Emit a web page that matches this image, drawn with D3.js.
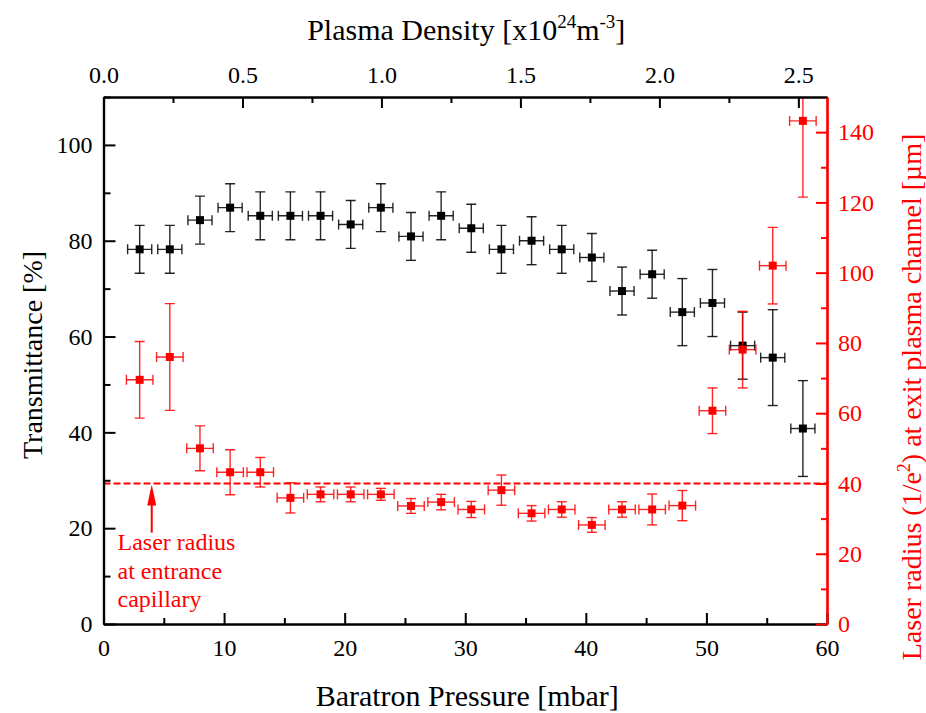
<!DOCTYPE html>
<html>
<head>
<meta charset="utf-8">
<script src="https://cdn.jsdelivr.net/npm/d3@7"></script>
<style>
svg text, svg tspan { font-family: "Liberation Serif", "Times New Roman", Tinos, serif !important; }
</style>
</head>
<body style="margin:0;background:#fff">
<svg id="chart" width="926" height="713" font-family="Liberation Serif" style="display:block;font-family:'Liberation Serif'"></svg>
<script>
// pressure (mbar) of each measurement
var pressure = [3, 5.5, 8, 10.5, 13, 15.5, 18, 20.5, 23, 25.5, 28, 30.5, 33, 35.5, 38, 40.5, 43, 45.5, 48, 50.5, 53, 55.5, 58];
var pressureErr = [1, 1, 1, 1, 1, 1, 1, 1, 1, 1, 1, 1, 1, 1, 1, 1, 1, 1, 1, 1, 1, 1, 1];

// transmittance (%) - black, left axis
var transmittance = [78.2, 78.2, 84.3, 86.9, 85.2, 85.2, 85.2, 83.4, 86.9, 80.9, 85.2, 82.6, 78.2, 80.0, 78.2, 76.5, 69.5, 73.0, 65.1, 67.0, 58.1, 55.6, 40.8];
var transErr = [5, 5, 5, 5, 5, 5, 5, 5, 5, 5, 5, 5, 5, 5, 5, 5, 5, 5, 7, 7, 7, 10, 10];

// laser radius (um) - red, right axis
var radius = [69.5, 76.0, 50.0, 43.2, 43.2, 35.9, 36.9, 36.9, 36.9, 33.6, 34.7, 32.6, 38.1, 31.5, 32.6, 28.2, 32.6, 32.6, 33.7, 60.7, 78.1, 102, 143.2];
var radiusErr = [10.9, 15.2, 6.4, 6.4, 4.2, 4.3, 2.1, 2.1, 1.7, 2.1, 2.2, 2.3, 4.3, 2.2, 2.2, 2.1, 2.2, 4.4, 4.3, 6.5, 10.9, 10.9, 21.7];

// tick values
var xTicks = [0, 10, 20, 30, 40, 50, 60];
var yLeftTicks = [0, 20, 40, 60, 80, 100];
var yRightTicks = [0, 20, 40, 60, 80, 100, 120, 140];
var topTicks = [0, 0.5, 1.0, 1.5, 2.0, 2.5];

// entrance radius reference line
var entranceRadius = [40];
var arrowFrom = [4, 26];   // pressure, radius

var FONT = "Liberation Serif";

var width = 926, height = 713;
var margin = {left: 103.5, top: 97, right: 99, bottom: 89};
var plotWidth = width - margin.left - margin.right;
var plotHeight = height - margin.top - margin.bottom;

var svg = d3.select("#chart");

var xScale = d3.scaleLinear().domain([0, 60]).range([0, plotWidth]);
var yLeft = d3.scaleLinear().domain([0, 110]).range([plotHeight, 0]);
var yRight = d3.scaleLinear().domain([0, 150]).range([plotHeight, 0]);
var topScale = d3.scaleLinear().domain([0, 2.603]).range([0, plotWidth]);

var plotLayer = svg.append("g").attr("transform", "translate(" + [margin.left, margin.top] + ")");
var axisLayer = svg.append("g").attr("transform", "translate(" + [margin.left, margin.top] + ")");

svg.append("defs").append("clipPath").attr("id", "clip")
    .append("rect").attr("width", plotWidth).attr("height", plotHeight);

var black = plotLayer.append("g").attr("clip-path", "url(#clip)");
var red = plotLayer.append("g").attr("clip-path", "url(#clip)");

// reference dashed line
red.selectAll(".ref").data(entranceRadius).enter().append("line")
    .attr("x1", 0).attr("x2", plotWidth)
    .attr("y1", function(d){ return yRight(d); })
    .attr("y2", function(d){ return yRight(d); })
    .attr("stroke", "#ff0000")
    .attr("stroke-width", 2)
    .attr("stroke-dasharray", "7,3");

function drawSeries(layer, ys, errs, yScale, color, xErrScale) {
    var data = pressure.map(function(p, i){
        return {x: p, xe: pressureErr[i] * xErrScale, y: ys[i], ye: errs[i]};
    });
    var cap = 5;
    var g = layer.selectAll(".pt").data(data).enter().append("g");
    g.append("line")
        .attr("x1", function(d){ return xScale(d.x); })
        .attr("x2", function(d){ return xScale(d.x); })
        .attr("y1", function(d){ return yScale(d.y + d.ye); })
        .attr("y2", function(d){ return yScale(d.y - d.ye); });
    g.append("line")
        .attr("x1", function(d){ return xScale(d.x) - cap; })
        .attr("x2", function(d){ return xScale(d.x) + cap; })
        .attr("y1", function(d){ return yScale(d.y + d.ye); })
        .attr("y2", function(d){ return yScale(d.y + d.ye); });
    g.append("line")
        .attr("x1", function(d){ return xScale(d.x) - cap; })
        .attr("x2", function(d){ return xScale(d.x) + cap; })
        .attr("y1", function(d){ return yScale(d.y - d.ye); })
        .attr("y2", function(d){ return yScale(d.y - d.ye); });
    g.append("line")
        .attr("x1", function(d){ return xScale(d.x - d.xe); })
        .attr("x2", function(d){ return xScale(d.x + d.xe); })
        .attr("y1", function(d){ return yScale(d.y); })
        .attr("y2", function(d){ return yScale(d.y); });
    g.append("line")
        .attr("x1", function(d){ return xScale(d.x - d.xe); })
        .attr("x2", function(d){ return xScale(d.x - d.xe); })
        .attr("y1", function(d){ return yScale(d.y) - cap; })
        .attr("y2", function(d){ return yScale(d.y) + cap; });
    g.append("line")
        .attr("x1", function(d){ return xScale(d.x + d.xe); })
        .attr("x2", function(d){ return xScale(d.x + d.xe); })
        .attr("y1", function(d){ return yScale(d.y) - cap; })
        .attr("y2", function(d){ return yScale(d.y) + cap; });
    g.selectAll("line").attr("stroke", color).attr("stroke-width", 1.4).attr("stroke-opacity", 0.85);
    g.append("rect")
        .attr("x", function(d){ return xScale(d.x) - 4; })
        .attr("y", function(d){ return yScale(d.y) - 4; })
        .attr("width", 8).attr("height", 8)
        .attr("fill", color);
}

drawSeries(black, transmittance, transErr, yLeft, "#000000", 1.0);
drawSeries(red, radius, radiusErr, yRight, "#ff0000", 1.1);

// arrow pointing to the reference line
var ax = xScale(arrowFrom[0]);
var ayTip = yRight(entranceRadius[0]) + 1;
plotLayer.append("line")
    .attr("x1", ax).attr("x2", ax)
    .attr("y1", yRight(arrowFrom[1])).attr("y2", ayTip + 18)
    .attr("stroke", "#ff0000").attr("stroke-width", 2);
plotLayer.append("path")
    .attr("d", "M" + ax + "," + ayTip + " L" + (ax - 4.5) + "," + (ayTip + 21) + " L" + (ax + 4.5) + "," + (ayTip + 21) + " Z")
    .attr("fill", "#ff0000");

var note = plotLayer.append("text")
    .attr("fill", "#ff0000")
    .attr("font-size", 24)
    .style("font-family", FONT);
["Laser radius", "at entrance", "capillary"].forEach(function(s, i){
    note.append("tspan").attr("x", 14).attr("y", 453 + i * 28.5).text(s);
});

// axes
function styleAxis(g, color) {
    g.attr("font-family", FONT).attr("font-size", 24);
    g.select(".domain").attr("stroke", color).attr("stroke-width", 2.2);
    g.selectAll(".tick line").attr("stroke", color).attr("stroke-width", 2);
    g.selectAll(".tick text").attr("fill", color)
        .style("font-family", FONT);
}

// minor ticks first
axisLayer.append("g").attr("transform", "translate(0," + plotHeight + ")")
    .call(d3.axisBottom(xScale).tickValues(d3.range(5, 60, 10)).tickSize(-6).tickSizeOuter(0).tickFormat(""))
    .call(styleAxis, "#000");
axisLayer.append("g")
    .call(d3.axisLeft(yLeft).tickValues(d3.range(10, 111, 20)).tickSize(-7).tickSizeOuter(0).tickFormat(""))
    .call(styleAxis, "#000");
axisLayer.append("g")
    .call(d3.axisTop(topScale).tickValues([0.25, 0.75, 1.25, 1.75, 2.25]).tickSize(-6).tickSizeOuter(0).tickFormat(""))
    .call(styleAxis, "#000");
axisLayer.append("g").attr("transform", "translate(" + plotWidth + ",0)")
    .call(d3.axisRight(yRight).tickValues(d3.range(10, 150, 20)).tickSize(-6).tickSizeOuter(0).tickFormat(""))
    .call(styleAxis, "#ff0000");

// major ticks with labels
var xAxis = axisLayer.append("g").attr("transform", "translate(0," + plotHeight + ")")
    .call(d3.axisBottom(xScale).tickValues(xTicks).tickSize(-11).tickSizeOuter(0).tickPadding(15).tickFormat(d3.format("d")))
    .call(styleAxis, "#000");

var yAxisL = axisLayer.append("g")
    .call(d3.axisLeft(yLeft).tickValues(yLeftTicks).tickSize(-12).tickSizeOuter(0).tickPadding(11).tickFormat(d3.format("d")))
    .call(styleAxis, "#000");

var topAxis = axisLayer.append("g")
    .call(d3.axisTop(topScale).tickValues(topTicks).tickSize(-11).tickSizeOuter(0).tickPadding(14).tickFormat(d3.format(".1f")))
    .call(styleAxis, "#000");

var yAxisR = axisLayer.append("g").attr("transform", "translate(" + plotWidth + ",0)")
    .call(d3.axisRight(yRight).tickValues(yRightTicks).tickSize(-11).tickSizeOuter(0).tickPadding(11).tickFormat(d3.format("d")))
    .call(styleAxis, "#ff0000");

// axis titles
svg.append("text")
    .attr("x", margin.left + plotWidth / 2 + 2).attr("y", 706)
    .attr("text-anchor", "middle")
    .attr("font-size", 30)
    .style("font-family", FONT)
    .text("Baratron Pressure [mbar]");

var topTitle = svg.append("text")
    .attr("x", margin.left + plotWidth / 2 + 1).attr("y", 40)
    .attr("text-anchor", "middle")
    .attr("font-size", 30)
    .style("font-family", FONT);
topTitle.append("tspan").text("Plasma Density [x10");
topTitle.append("tspan").attr("font-size", 19).attr("dy", -12).text("24");
topTitle.append("tspan").attr("dy", 12).text("m");
topTitle.append("tspan").attr("font-size", 19).attr("dy", -12).text("-3");
topTitle.append("tspan").attr("dy", 12).text("]");

svg.append("text")
    .attr("transform", "translate(42,355) rotate(-90)")
    .attr("text-anchor", "middle")
    .attr("font-size", 28)
    .style("font-family", FONT)
    .text("Transmittance [%]");

var rightTitle = svg.append("text")
    .attr("transform", "translate(921,397) rotate(-90)")
    .attr("text-anchor", "middle")
    .attr("font-size", 28)
    .style("font-family", FONT)
    .attr("fill", "#ff0000");
rightTitle.append("tspan").text("Laser radius (1/e");
rightTitle.append("tspan").attr("font-size", 18).attr("dy", -11).text("2");
rightTitle.append("tspan").attr("dy", 11).text(") at exit plasma channel [\u00b5m]");
</script>
</body>
</html>
